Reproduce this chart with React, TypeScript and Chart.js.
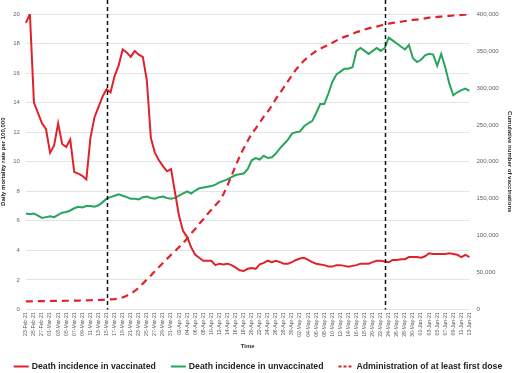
import React, { useEffect, useRef } from 'react';
import { Chart, registerables } from 'chart.js';

Chart.register(...registerables);

// ---- Data ----
const startDate = '2021-02-23';
const dayCount = 111;
const monthNames = ['Jan', 'Feb', 'Mar', 'Apr', 'May', 'Jun', 'Jul', 'Aug', 'Sep', 'Oct', 'Nov', 'Dec'];

function buildDateLabels(): string[] {
  const out: string[] = [];
  const d0 = new Date(startDate + 'T00:00:00Z');
  for (let i = 0; i < dayCount; i++) {
    const d = new Date(d0.getTime() + i * 86400000);
    const dd = String(d.getUTCDate()).padStart(2, '0');
    out.push(`${dd}-${monthNames[d.getUTCMonth()]}-${String(d.getUTCFullYear()).slice(2)}`);
  }
  return out;
}
const dateLabels = buildDateLabels();

const markerDates = ['15-Mar-21', '23-May-21'];

const vaccinated = [
  19.4, 20.0, 14.0, 13.3, 12.6, 12.2, 10.6, 11.1, 12.6, 11.2,
  11.0, 11.5, 9.3, 9.2, 9.05, 8.8, 11.6, 13.0, 13.7, 14.4,
  14.9, 14.7, 15.8, 16.5, 17.6, 17.4, 17.1, 17.5, 17.25, 17.1,
  15.5, 11.6, 10.6, 10.1, 9.7, 9.35, 9.5, 7.9, 6.3, 5.3,
  4.9, 4.2, 3.7, 3.5, 3.3, 3.3, 3.3, 3.0, 3.1, 3.05,
  3.1, 3.0, 2.85, 2.65, 2.6, 2.75, 2.8, 2.75, 3.05, 3.15,
  3.3, 3.2, 3.3, 3.2, 3.1, 3.1, 3.2, 3.35, 3.45, 3.5,
  3.35, 3.2, 3.1, 3.05, 3.0, 2.9, 2.9, 3.0, 3.0, 2.95,
  2.9, 2.95, 3.0, 3.1, 3.1, 3.1, 3.2, 3.3, 3.3, 3.25,
  3.2, 3.35, 3.35, 3.4, 3.4, 3.55, 3.55, 3.55, 3.5, 3.6,
  3.8, 3.75, 3.75, 3.75, 3.75, 3.8, 3.75, 3.7, 3.55, 3.7, 3.55,
];

const unvaccinated = [
  6.5, 6.45, 6.5, 6.35, 6.2, 6.25, 6.3, 6.25, 6.4, 6.55,
  6.6, 6.7, 6.85, 6.95, 6.9, 7.0, 7.0, 6.95, 7.05, 7.25,
  7.5, 7.6, 7.7, 7.8, 7.7, 7.6, 7.5, 7.5, 7.45, 7.6,
  7.65, 7.55, 7.5, 7.6, 7.65, 7.55, 7.5, 7.55, 7.7, 7.85,
  8.0, 7.85, 8.05, 8.2, 8.25, 8.3, 8.35, 8.45, 8.6, 8.7,
  8.8, 8.95, 9.1, 9.15, 9.2, 9.5, 10.1, 10.25, 10.15, 10.4,
  10.25, 10.3, 10.55, 10.9, 11.2, 11.5, 11.9, 12.0, 12.05, 12.4,
  12.6, 12.75, 13.3, 13.9, 13.9, 14.6, 15.4, 15.9, 16.1, 16.3,
  16.3, 16.4, 17.5, 17.7, 17.5, 17.3, 17.5, 17.7, 17.5, 17.7,
  18.4, 18.2, 18.0, 17.8, 17.6, 17.9, 17.0, 16.75, 16.9, 17.2,
  17.3, 17.25, 16.5, 17.3, 16.4, 15.3, 14.5, 14.7, 14.85, 14.95, 14.8,
];

const cumulativeFirstDose = [
  11000, 11050, 11150, 11200, 11300, 11350, 11450, 11500, 11600, 11700,
  11750, 11850, 11950, 12050, 12150, 12300, 12450, 12600, 12800, 13000,
  13300, 13600, 14000, 14800, 16300, 18500, 21000, 25000, 29500, 35000,
  40500, 46000, 52000, 57500, 63000, 68500, 74000, 79000, 84500, 90000,
  96000, 103000, 109000, 116000, 122000, 129000, 135000, 141000, 147000, 156000,
  168000, 181000, 194000, 207000, 218000, 228000, 238000, 245000, 253000, 261000,
  268000, 276000, 285000, 293000, 301000, 309000, 317000, 325000, 331000, 337000,
  342000, 346000, 350000, 353000, 355500, 358000, 361000, 364000, 367000, 369000,
  371000, 373000, 375500, 377000, 379000, 380500, 382000, 383000, 384500, 386000,
  387000, 388000, 388500, 389500, 390500, 391000, 392000, 392500, 393000, 394000,
  395000, 395500, 396000, 396500, 397000, 397500, 398000, 398300, 398700, 399000, 399300,
];

const seriesNames = [
  'Death incidence in vaccinated',
  'Death incidence in unvaccinated',
  'Administration of at least first dose',
];

const RED = '#E0222B';
const GREEN = '#27A55C';
const FONT = "'Liberation Sans', Arial, sans-serif";

const markerPlugin = {
  id: 'markerLines',
  afterDatasetsDraw(chart: any) {
    const x = chart.scales.x;
    const area = chart.chartArea;
    const ctx = chart.ctx;
    ctx.save();
    ctx.strokeStyle = '#111';
    ctx.lineWidth = 1.5;
    ctx.setLineDash([4, 3]);
    markerDates.forEach((m) => {
      const idx = dateLabels.indexOf(m);
      if (idx < 0) return;
      const px = Math.round(x.getPixelForValue(idx)) + 0.5;
      ctx.beginPath();
      ctx.moveTo(px, 0);
      ctx.lineTo(px, area.bottom);
      ctx.stroke();
    });
    ctx.restore();
  },
};

// Custom bottom legend drawn from the chart's own datasets
const legendPlugin = {
  id: 'bottomLegend',
  afterDraw(chart: any) {
    const ctx = chart.ctx;
    const ds = chart.data.datasets;
    const lineLen = 15;
    const textGap = 3;
    const itemGap = 15;
    ctx.save();
    ctx.font = `bold 8.7px ${FONT}`;
    ctx.textBaseline = 'middle';
    const widths = ds.map((d: any) => ctx.measureText(d.label).width);
    const total = widths.reduce((a: number, w: number) => a + w + lineLen + textGap, 0) + itemGap * (ds.length - 1);
    let x = (chart.width - total) / 2 + 2;
    const y = chart.height - 6.5;
    ds.forEach((d: any, i: number) => {
      ctx.strokeStyle = d.borderColor;
      ctx.lineWidth = 2;
      ctx.setLineDash(d.borderDash ? [3, 2] : []);
      ctx.beginPath();
      ctx.moveTo(x, y);
      ctx.lineTo(x + lineLen, y);
      ctx.stroke();
      ctx.setLineDash([]);
      ctx.fillStyle = '#222';
      ctx.fillText(d.label, x + lineLen + textGap, y);
      x += lineLen + textGap + widths[i] + itemGap;
    });
    ctx.restore();
  },
};

export default function App() {
  const canvasRef = useRef<HTMLCanvasElement | null>(null);

  useEffect(() => {
    document.body.style.margin = '0';
    const canvas = canvasRef.current;
    if (!canvas) return;
    const chart = new Chart(canvas, {
      type: 'line',
      data: {
        labels: dateLabels,
        datasets: [
          {
            label: seriesNames[0],
            data: vaccinated,
            borderColor: RED,
            backgroundColor: RED,
            borderWidth: 2,
            pointRadius: 0,
            tension: 0,
            yAxisID: 'y',
          },
          {
            label: seriesNames[1],
            data: unvaccinated,
            borderColor: GREEN,
            backgroundColor: GREEN,
            borderWidth: 2,
            pointRadius: 0,
            tension: 0,
            yAxisID: 'y',
          },
          {
            label: seriesNames[2],
            data: cumulativeFirstDose,
            borderColor: RED,
            backgroundColor: RED,
            borderWidth: 2.2,
            borderDash: [7, 5],
            pointRadius: 0,
            tension: 0,
            yAxisID: 'y1',
          },
        ],
      },
      options: {
        responsive: true,
        maintainAspectRatio: false,
        animation: false,
        layout: { padding: { left: 0, right: -2, top: 14, bottom: 23 } },
        plugins: {
          tooltip: { enabled: false },
          legend: { display: false },
        },
        scales: {
          x: {
            type: 'category',
            grid: { display: false, drawTicks: false },
            border: { display: false },
            ticks: {
              autoSkip: false,
              maxRotation: 90,
              minRotation: 90,
              padding: 3,
              color: '#555',
              font: { family: FONT, size: 5.1 },
              callback: (_v: any, i: number) => (i % 2 === 0 ? dateLabels[i] : ''),
            },
            title: {
              display: true,
              text: 'Time',
              color: '#333',
              font: { family: FONT, size: 6, weight: 'bold' },
              padding: { top: 3, bottom: 0 },
            },
          },
          y: {
            position: 'left',
            min: 0,
            max: 20,
            grid: { color: '#e4e4e4', lineWidth: 1, drawTicks: false },
            border: { display: false },
            ticks: {
              stepSize: 2,
              padding: 6,
              color: '#666',
              font: { family: FONT, size: 6 },
            },
            title: {
              display: true,
              text: 'Daily mortality rate per 100,000',
              color: '#222',
              font: { family: FONT, size: 6, weight: 'bold' },
              padding: { top: 0, bottom: 0 },
            },
          },
          y1: {
            position: 'right',
            min: 0,
            max: 400000,
            grid: { display: false, drawTicks: false },
            border: { display: false },
            ticks: {
              stepSize: 50000,
              padding: 7,
              color: '#666',
              font: { family: FONT, size: 6.2 },
              callback: (v: any) => Number(v).toLocaleString('en-US'),
            },
            title: {
              display: true,
              text: 'Cumulative number of vaccinations',
              color: '#222',
              font: { family: FONT, size: 6, weight: 'bold' },
              padding: { top: 1, bottom: 0 },
            },
          },
        },
      },
      plugins: [markerPlugin, legendPlugin],
    } as any);
    return () => chart.destroy();
  }, []);

  return (
    <div style={{ position: 'relative', width: 512, height: 373, background: '#fff' }}>
      <canvas ref={canvasRef} />
    </div>
  );
}
